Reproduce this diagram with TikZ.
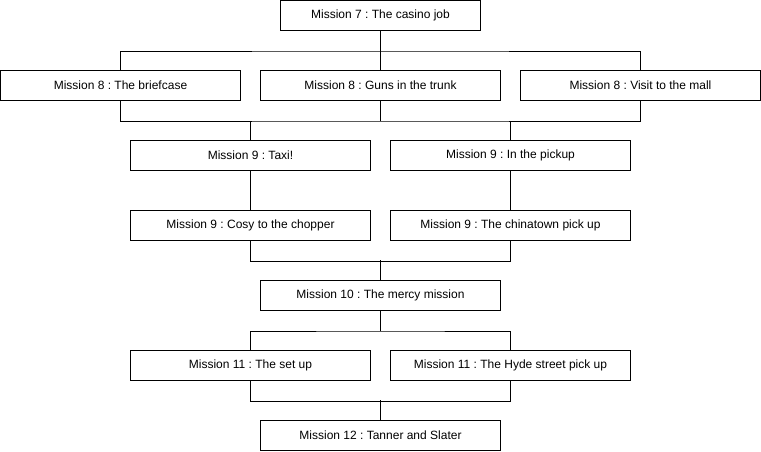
\documentclass[tikz,border=0pt]{standalone}
\usepackage{fontspec}
\setmainfont{Liberation Sans}
\frenchspacing
\begin{document}
\begin{tikzpicture}[x=1pt,y=-1pt,
  box/.style={draw=black,line width=1pt,fill=white,minimum width=240pt,minimum height=30pt,inner sep=0pt,font=\fontsize{12}{14}\selectfont,anchor=center},
  wire/.style={draw=black,line width=1pt}]
\useasboundingbox (0,0) rectangle (761,451);
\node[box,minimum width=200pt] (m7) at (380.5,15.5) {Mission 7 : The casino job};
\node[box] (m8a) at (120.5,85.5) {Mission 8 : The briefcase};
\node[box] (m8b) at (380.5,85.5) {Mission 8 : Guns in the trunk};
\node[box] (m8c) at (640.5,85.5) {Mission 8 : Visit to the mall};
\node[box] (m9a) at (250.5,155.5) {Mission 9 : Taxi!};
\node[box] (m9b) at (510.5,155.5) {Mission 9 : In the pickup};
\node[box] (m9c) at (250.5,225.5) {Mission 9 : Cosy to the chopper};
\node[box] (m9d) at (510.5,225.5) {Mission 9 : The chinatown pick up};
\node[box] (m10) at (380.5,295.5) {Mission 10 : The mercy mission};
\node[box] (m11a) at (250.5,365.5) {Mission 11 : The set up};
\node[box] (m11b) at (510.5,365.5) {Mission 11 : The Hyde street pick up};
\node[box] (m12) at (380.5,435.5) {Mission 12 : Tanner and Slater};
% row 7 -> 8
\draw[wire] (m7.south) -- ++(0,20) coordinate (j1);
\draw[wire] (m8a.north) |- (j1) -| (m8c.north);
\draw[wire] (j1) -- (m8b.north);
% row 8 -> 9
\draw[wire] (m8b.south) -- ++(0,20) coordinate (j2);
\draw[wire] (m8a.south) |- (j2) -| (m8c.south);
\draw[wire] (m9a.north) -- (m9a.north |- j2);
\draw[wire] (m9b.north) -- (m9b.north |- j2);
% taxi -> cosy, pickup -> chinatown
\draw[wire] (m9a.south) -- (m9c.north);
\draw[wire] (m9b.south) -- (m9d.north);
% row 9 -> 10
\draw[wire] (m9c.south) -- ++(0,20) -| (m9d.south);
\draw[wire] (m10.north) -- ++(0,-20);
% row 10 -> 11
\draw[wire] (m10.south) -- ++(0,20) coordinate (j3);
\draw[wire] (m11a.north) |- (j3) -| (m11b.north);
% row 11 -> 12
\draw[wire] (m11a.south) -- ++(0,20) -| (m11b.south);
\draw[wire] (m12.north) -- ++(0,-20);
\end{tikzpicture}
\end{document}
